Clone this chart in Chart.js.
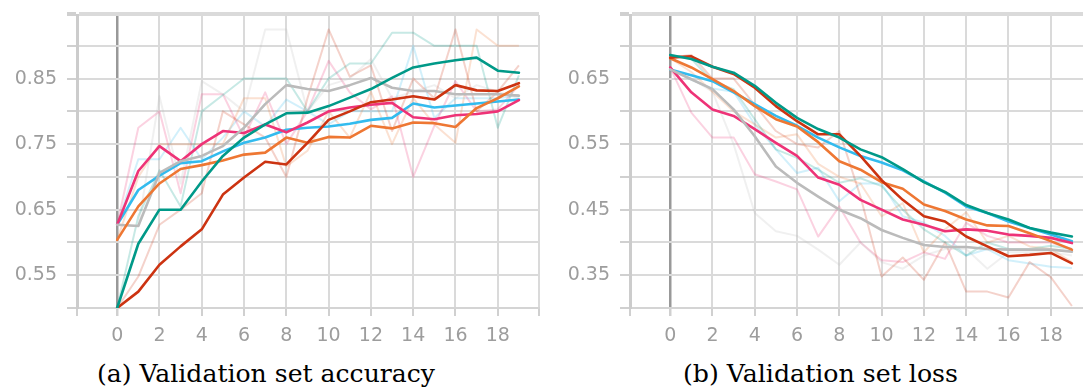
<!DOCTYPE html>
<html>
<head>
<meta charset="utf-8">
<script src="https://cdn.jsdelivr.net/npm/chart.js@4.4.1/dist/chart.umd.min.js"></script>
<style>
  html, body { margin: 0; padding: 0; background: #fff; overflow: hidden; width: 1083px; height: 390px; }
  #wrap { position: relative; width: 1083px; height: 390px; overflow: hidden; }
  canvas { position: absolute; top: 0; }
  #cA { left: 0px; }
  #cB { left: 553px; }
  .cap { position: absolute; top: 359px; font-family: "DejaVu Serif", serif; font-size: 25px; color: #000; white-space: nowrap; transform-origin: 0 0; }
</style>
</head>
<body>
<div id="wrap">
  <canvas id="cA" width="545" height="345"></canvas>
  <canvas id="cB" width="545" height="345"></canvas>
  <div class="cap" id="capA">(a) Validation set accuracy</div>
  <div class="cap" id="capB">(b) Validation set loss</div>
</div>
<script>
// ---------- DATA ----------
const epochs = [0,1,2,3,4,5,6,7,8,9,10,11,12,13,14,15,16,17,18,19];
const xTickValues = [0,2,4,6,8,10,12,14,16,18];
const accTickLabels = [0.55, 0.65, 0.75, 0.85];
const lossTickLabels = [0.35, 0.45, 0.55, 0.65];

const runNames = ["teal", "darkred", "orange", "grey", "pink", "blue"];
const runColors = ["#009988", "#cc3311", "#ee7733", "#bbbbbb", "#ee3377", "#33bbee"];

// accuracy, smoothed
const accTeal    = [0.500,0.598,0.650,0.650,0.693,0.732,0.760,0.780,0.797,0.798,0.808,0.821,0.834,0.851,0.867,0.873,0.878,0.882,0.862,0.859];
const accDarkred = [0.500,0.525,0.566,0.594,0.620,0.673,0.699,0.723,0.719,0.752,0.787,0.800,0.814,0.818,0.823,0.818,0.840,0.832,0.831,0.843];
const accOrange  = [0.604,0.655,0.690,0.712,0.718,0.725,0.734,0.737,0.760,0.752,0.761,0.760,0.778,0.774,0.783,0.782,0.776,0.805,0.820,0.838];
const accGrey    = [0.627,0.625,0.706,0.724,0.732,0.747,0.775,0.811,0.840,0.834,0.831,0.840,0.851,0.836,0.831,0.831,0.826,0.826,0.826,0.824];
const accPink    = [0.627,0.709,0.747,0.724,0.750,0.770,0.767,0.780,0.768,0.783,0.800,0.806,0.810,0.813,0.791,0.788,0.794,0.796,0.800,0.817];
const accBlue    = [0.627,0.680,0.702,0.721,0.724,0.739,0.752,0.760,0.772,0.775,0.777,0.781,0.787,0.790,0.812,0.806,0.809,0.812,0.815,0.818];

// accuracy, raw (faint)
const accTealRaw    = [0.500,0.640,0.710,0.655,0.800,0.825,0.850,0.850,0.850,0.800,0.850,0.873,0.873,0.920,0.920,0.900,0.900,0.900,0.775,0.855];
const accDarkredRaw = [0.500,0.548,0.627,0.650,0.675,0.800,0.780,0.760,0.700,0.820,0.925,0.853,0.870,0.770,0.850,0.820,0.925,0.800,0.830,0.870];
const accOrangeRaw  = [0.604,0.700,0.750,0.750,0.750,0.750,0.820,0.820,0.716,0.740,0.800,0.760,0.830,0.750,0.820,0.780,0.752,0.925,0.900,0.900];
const accGreyRaw    = [0.627,0.625,0.823,0.690,0.846,0.826,0.800,0.925,0.925,0.800,0.840,0.850,0.880,0.820,0.830,0.840,0.820,0.840,0.830,0.820];
const accPinkRaw    = [0.627,0.775,0.800,0.675,0.826,0.826,0.760,0.829,0.750,0.800,0.877,0.829,0.803,0.823,0.700,0.778,0.846,0.800,0.803,0.840];
const accBlueRaw    = [0.627,0.727,0.727,0.775,0.727,0.760,0.800,0.777,0.818,0.800,0.780,0.800,0.800,0.800,0.900,0.790,0.820,0.820,0.820,0.825];

// loss, smoothed
const lossTeal    = [0.686,0.680,0.668,0.659,0.639,0.613,0.590,0.573,0.560,0.542,0.530,0.512,0.492,0.477,0.457,0.445,0.435,0.422,0.415,0.409];
const lossDarkred = [0.682,0.684,0.668,0.657,0.636,0.608,0.585,0.565,0.565,0.532,0.495,0.465,0.440,0.432,0.409,0.394,0.379,0.381,0.384,0.368];
const lossOrange  = [0.681,0.667,0.649,0.631,0.608,0.588,0.577,0.553,0.524,0.511,0.492,0.482,0.458,0.448,0.435,0.426,0.425,0.414,0.402,0.389];
const lossGrey    = [0.664,0.649,0.634,0.603,0.562,0.516,0.491,0.470,0.450,0.437,0.419,0.407,0.396,0.393,0.393,0.390,0.389,0.389,0.389,0.386];
const lossPink    = [0.667,0.629,0.603,0.593,0.573,0.552,0.532,0.499,0.488,0.465,0.450,0.435,0.427,0.417,0.420,0.418,0.412,0.410,0.407,0.399];
const lossBlue    = [0.664,0.655,0.646,0.629,0.611,0.593,0.578,0.560,0.545,0.532,0.522,0.510,0.493,0.476,0.455,0.445,0.432,0.422,0.412,0.402];

// loss, raw (faint)
const lossTealRaw    = [0.686,0.680,0.646,0.634,0.588,0.542,0.529,0.511,0.491,0.498,0.486,0.450,0.420,0.400,0.380,0.400,0.390,0.390,0.395,0.390];
const lossDarkredRaw = [0.682,0.686,0.650,0.650,0.610,0.570,0.550,0.545,0.570,0.470,0.348,0.377,0.343,0.400,0.325,0.325,0.316,0.370,0.347,0.303];
const lossOrangeRaw  = [0.681,0.660,0.630,0.600,0.580,0.560,0.565,0.520,0.500,0.490,0.440,0.460,0.385,0.420,0.446,0.400,0.410,0.394,0.390,0.370];
const lossGreyRaw    = [0.664,0.650,0.630,0.550,0.445,0.417,0.410,0.389,0.366,0.400,0.370,0.360,0.380,0.390,0.390,0.360,0.385,0.385,0.385,0.380];
const lossPinkRaw    = [0.667,0.598,0.560,0.560,0.504,0.493,0.481,0.409,0.455,0.400,0.373,0.370,0.385,0.375,0.430,0.410,0.400,0.400,0.400,0.390];
const lossBlueRaw    = [0.664,0.648,0.635,0.630,0.580,0.542,0.506,0.514,0.463,0.490,0.490,0.440,0.430,0.410,0.380,0.390,0.373,0.368,0.363,0.361];

// ---------- BUILD ----------
function hexA(hex, a) {
  const n = parseInt(hex.slice(1), 16);
  return `rgba(${(n>>16)&255},${(n>>8)&255},${n&255},${a})`;
}
function pts(arr) { return epochs.map((e, i) => ({ x: e, y: arr[i] })); }

function makeDatasets(smoothed, raw) {
  const ds = [];
  smoothed.forEach((arr, k) => ds.push({
    label: runNames[k], data: pts(arr), borderColor: runColors[k],
    borderWidth: 2.6, pointRadius: 0, tension: 0, borderJoinStyle: 'round', borderCapStyle: 'round'
  }));
  raw.forEach((arr, k) => ds.push({
    label: runNames[k] + ' raw', data: pts(arr), borderColor: hexA(runColors[k], 0.22),
    borderWidth: 2, pointRadius: 0, tension: 0, borderJoinStyle: 'round'
  }));
  return ds;
}

const tickFont = { family: "DejaVu Sans", size: 19 };
const tickColor = '#9d9d9d';

function makeChart(id, smoothed, raw, yMin, yMax, yLabels) {
  const yTicks = [];
  for (let v = Math.round(yMin*100); v <= Math.round(yMax*100); v += 5) yTicks.push(v/100);
  return new Chart(document.getElementById(id), {
    type: 'line',
    data: { datasets: makeDatasets(smoothed, raw) },
    options: {
      responsive: false, animation: false, devicePixelRatio: 1,
      layout: { padding: { top: 15, right: 6, left: 0, bottom: 0 } },
      plugins: { legend: { display: false }, tooltip: { enabled: false } },
      scales: {
        x: {
          type: 'linear', min: -1.9, max: 19.95,
          afterBuildTicks: (s) => { s.ticks = [{value: -1.9}].concat(xTickValues.map(v => ({value: v}))).concat([{value: 19.95}]); },
          afterFit: (s) => { s.height = 37; s.paddingLeft = 0; s.paddingRight = 0; },
          ticks: { autoSkip: false, maxRotation: 0, padding: 9, color: tickColor, font: tickFont,
                   callback: (v) => xTickValues.includes(v) ? String(v) : '' },
          grid: { color: (c) => (c.tick && c.tick.value === 0) ? '#999999' : '#dadada',
                  lineWidth: (c) => (c.tick && c.tick.value === 0) ? 2.5 : 2,
                  tickColor: '#d0d0d0', tickLength: 8, drawTicks: true },
          border: { display: true, color: '#d4d4d4', width: 2 }
        },
        y: {
          type: 'linear', min: yMin, max: yMax,
          afterBuildTicks: (s) => { s.ticks = yTicks.map(v => ({value: v})).concat([{value: yMax}]); },
          afterFit: (s) => { s.width = 77; s.paddingTop = 0; s.paddingBottom = 0; },
          ticks: { autoSkip: false, padding: 10, color: tickColor, font: tickFont,
                   callback: (v) => yLabels.some(l => Math.abs(l - v) < 1e-6) ? v.toFixed(2) : '' },
          grid: { color: '#dadada', lineWidth: 2, tickColor: '#d0d0d0', tickLength: 10, drawTicks: true },
          border: { display: true, color: '#cccccc', width: 3 }
        }
      }
    }
  });
}

makeChart('cA',
  [accTeal, accDarkred, accOrange, accGrey, accPink, accBlue],
  [accTealRaw, accDarkredRaw, accOrangeRaw, accGreyRaw, accPinkRaw, accBlueRaw],
  0.50, 0.947, accTickLabels);
makeChart('cB',
  [lossTeal, lossDarkred, lossOrange, lossGrey, lossPink, lossBlue],
  [lossTealRaw, lossDarkredRaw, lossOrangeRaw, lossGreyRaw, lossPinkRaw, lossBlueRaw],
  0.30, 0.747, lossTickLabels);

// captions: fit to the reference extents
function fitCap(id, left, right) {
  const el = document.getElementById(id);
  const w = el.getBoundingClientRect().width;
  const sx = (right - left) / w;
  el.style.left = left + 'px';
  el.style.transform = 'scaleX(' + sx + ')';
}
fitCap('capA', 97, 435);
fitCap('capB', 683, 958);
</script>
</body>
</html>
